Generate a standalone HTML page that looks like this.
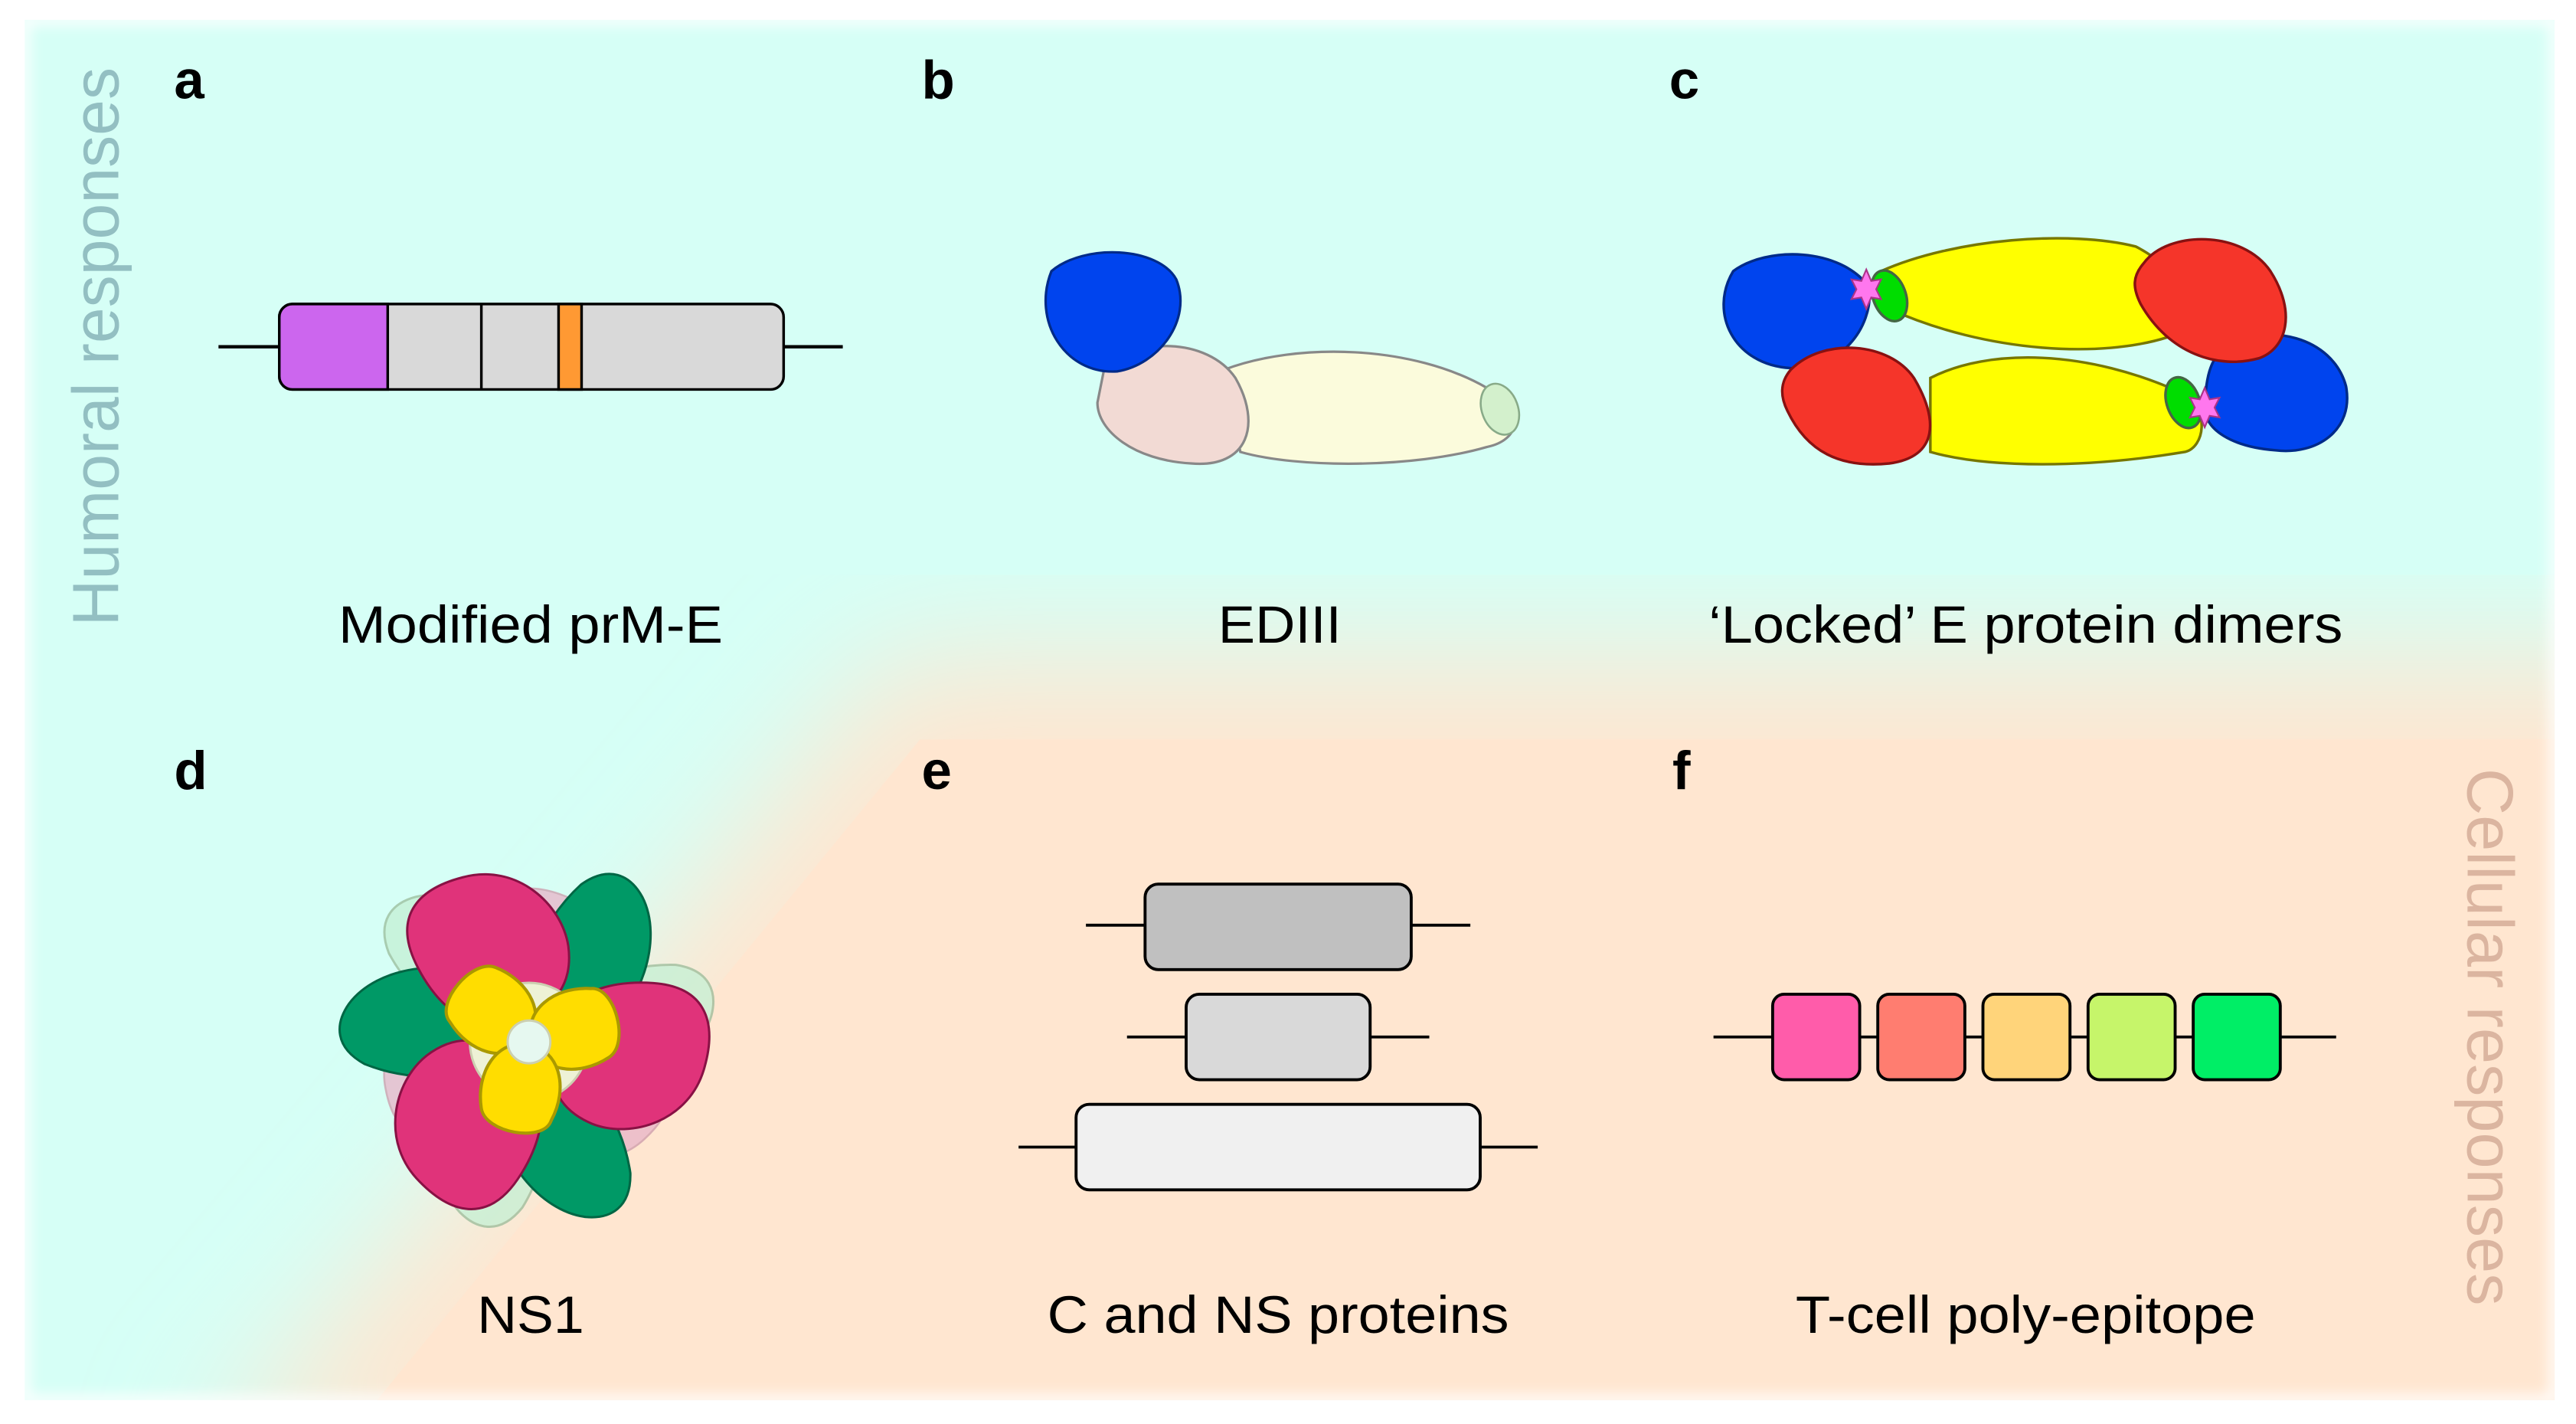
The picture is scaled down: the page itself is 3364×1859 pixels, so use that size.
<!DOCTYPE html>
<html><head><meta charset="utf-8"><style>html,body{margin:0;padding:0;background:#fff}svg{display:block}</style></head>
<body>
<svg width="3364" height="1859" viewBox="0 0 1568 866.5" preserveAspectRatio="none" xmlns="http://www.w3.org/2000/svg" font-family="Liberation Sans, Arial, sans-serif">
<defs>
<filter id="bl" x="-10%" y="-10%" width="120%" height="120%"><feGaussianBlur stdDeviation="40"/></filter>
<filter id="edge"><feGaussianBlur stdDeviation="4"/></filter>
<clipPath id="cp"><rect x="15" y="12" width="1540" height="840"/></clipPath>
<path id="pk" d="M14,0 C14,-30 40,-44 70,-46 C100,-48 112,-30 108,0 C104,34 70,50 45,44 C22,38 14,22 14,0 Z"/>
<path id="gr" d="M14,0 C20,-28 60,-40 95,-34 C115,-28 118,-14 112,0 C100,26 60,40 30,32 C18,26 14,12 14,0 Z"/>
<path id="yl" d="M-18,-14 C-16,-26 14,-26 18,-14 C24,4 16,22 0,22 C-16,22 -24,4 -18,-14 Z"/>
</defs>
<rect width="1568" height="866.5" fill="#fff"/>
<g clip-path="url(#cp)">
<rect x="15" y="12" width="1540" height="840" fill="#d6fff6"/>
<polygon points="120,900 545,400 1700,400 1700,900" fill="#ffe6d0" filter="url(#bl)"/>
<polygon points="190,900 560,450 1700,450 1700,900" fill="#ffe6d0"/>
</g>
<rect x="15" y="12" width="1540" height="840" fill="none" stroke="#fff" stroke-width="6" filter="url(#edge)"/>

<!-- labels -->
<g font-weight="bold" font-size="33" fill="#000">
<text x="106" y="60">a</text><text x="561" y="60">b</text><text x="1016" y="60">c</text>
<text x="106" y="480">d</text><text x="561" y="480">e</text><text x="1018" y="480">f</text>
</g>
<text transform="translate(72,211) rotate(-90)" text-anchor="middle" font-size="40" fill="#93bfc2" textLength="340" lengthAdjust="spacingAndGlyphs">Humoral responses</text>
<text transform="translate(1502,631) rotate(90)" text-anchor="middle" font-size="40" fill="#dbb5a0" textLength="327" lengthAdjust="spacingAndGlyphs">Cellular responses</text>
<g font-size="32" fill="#000" text-anchor="middle" lengthAdjust="spacingAndGlyphs">
<text x="323" y="391" textLength="234" lengthAdjust="spacingAndGlyphs">Modified prM-E</text>
<text x="779" y="391" textLength="75" lengthAdjust="spacingAndGlyphs">EDIII</text>
<text x="1233" y="391" textLength="386" lengthAdjust="spacingAndGlyphs">‘Locked’ E protein dimers</text>
<text x="323" y="811" textLength="65" lengthAdjust="spacingAndGlyphs">NS1</text>
<text x="778" y="811" textLength="281" lengthAdjust="spacingAndGlyphs">C and NS proteins</text>
<text x="1233" y="811" textLength="280" lengthAdjust="spacingAndGlyphs">T-cell poly-epitope</text>
</g>

<!-- a -->
<line x1="133" y1="211" x2="513" y2="211" stroke="#000" stroke-width="2"/>
<rect x="170" y="185" width="307" height="52" rx="8" fill="#d9d9d9" stroke="#000" stroke-width="1.6"/>
<path d="M178,185 H236 V237 H178 A8,8 0 0 1 170,229 V193 A8,8 0 0 1 178,185 Z" fill="#cc66ee" stroke="#000" stroke-width="1.6"/>
<line x1="293" y1="185" x2="293" y2="237" stroke="#000" stroke-width="1.6"/>
<rect x="340" y="185" width="14" height="52" fill="#ff9933" stroke="#000" stroke-width="1.6"/>

<!-- b -->
<path d="M745,225 C790,208 860,210 905,236 C930,250 925,268 905,272 C860,285 790,285 755,275 Z" fill="#fbfbdc" stroke="#888" stroke-width="1.5"/>
<ellipse cx="913" cy="249" rx="11" ry="16" transform="rotate(-20 913 249)" fill="#d3f0cc" stroke="#8a8" stroke-width="1.2"/>
<path d="M672,225 C690,205 735,205 752,230 C768,258 760,285 725,282 C690,280 668,262 668,245 Z" fill="#f2dad4" stroke="#888" stroke-width="1.5"/>
<path d="M640,165 C660,148 705,150 716,170 C726,195 705,222 680,226 C648,228 628,195 640,165 Z" fill="#0044ee" stroke="#002a88" stroke-width="1.5"/>

<!-- c -->
<g stroke-width="1.6">
<path d="M1145,165 C1190,145 1260,140 1300,150 C1330,165 1340,195 1320,205 C1280,218 1210,215 1150,188 C1138,180 1138,170 1145,165 Z" fill="#ffff00" stroke="#777700"/>
<path d="M1175,230 C1210,212 1270,212 1330,240 C1345,250 1342,272 1330,275 C1270,285 1210,285 1175,275 Z" fill="#ffff00" stroke="#777700"/>
<path d="M1055,165 C1075,150 1120,150 1138,175 C1140,200 1120,225 1090,224 C1055,222 1040,190 1055,165 Z" fill="#0044ee" stroke="#002a88"/>
<path d="M1353,212 C1380,195 1420,205 1428,235 C1433,262 1410,277 1385,274 C1360,272 1340,262 1342,245 C1343,230 1345,220 1353,212 Z" fill="#0044ee" stroke="#002a88"/>
<path d="M1305,160 C1320,140 1365,140 1382,165 C1398,190 1392,212 1375,218 C1350,225 1320,215 1303,185 C1298,175 1298,168 1305,160 Z" fill="#f5352a" stroke="#881111"/>
<path d="M1090,225 C1110,205 1150,208 1165,230 C1180,255 1180,278 1150,282 C1120,285 1100,275 1088,250 C1083,240 1084,232 1090,225 Z" fill="#f5352a" stroke="#881111"/>
<ellipse cx="1150" cy="180" rx="10" ry="16" transform="rotate(-20 1150 180)" fill="#00dd00" stroke="#446644"/>
<ellipse cx="1329" cy="245" rx="10" ry="16" transform="rotate(-20 1329 245)" fill="#00dd00" stroke="#446644"/>
<polygon points="1136,164 1139,171 1145,170 1142,176 1145,182 1139,181 1136,188 1133,181 1127,182 1130,176 1127,170 1133,171" fill="#ff77ee" stroke="#aa3388" stroke-width="1"/>
<polygon points="1342,236 1345,243 1351,242 1348,248 1351,254 1345,253 1342,260 1339,253 1333,254 1336,248 1333,242 1339,243" fill="#ff77ee" stroke="#aa3388" stroke-width="1"/>
</g>

<!-- d flower -->
<g transform="translate(322,634)" stroke-width="1.4">
<g opacity="0.75">
<use href="#gr" transform="rotate(-128)" fill="#c4f0d4" stroke="#99bb99"/>
<use href="#gr" transform="rotate(-8)" fill="#c4f0d4" stroke="#99bb99"/>
<use href="#gr" transform="rotate(112)" fill="#c4f0d4" stroke="#99bb99"/>
<use href="#pk" transform="rotate(-78) scale(0.85)" fill="#e8b4c8" stroke="#cc99aa"/>
<use href="#pk" transform="rotate(40) scale(0.85)" fill="#e8b4c8" stroke="#cc99aa"/>
<use href="#pk" transform="rotate(162) scale(0.85)" fill="#e8b4c8" stroke="#cc99aa"/>
</g>
<use href="#gr" transform="rotate(192)" fill="#009966" stroke="#006644"/>
<use href="#gr" transform="rotate(-52)" fill="#009966" stroke="#006644"/>
<use href="#gr" transform="rotate(72)" fill="#009966" stroke="#006644"/>
<use href="#pk" transform="rotate(-112)" fill="#e0337a" stroke="#881144"/>
<use href="#pk" transform="rotate(8)" fill="#e0337a" stroke="#881144"/>
<use href="#pk" transform="rotate(128)" fill="#e0337a" stroke="#881144"/>
<circle r="36" fill="#eef2d6" stroke="#cccfb0"/>
<use href="#yl" transform="rotate(-50) translate(0,-28) scale(1.2)" fill="#ffdd00" stroke="#aa9900" stroke-width="1.6"/>
<use href="#yl" transform="rotate(75) translate(0,-28) scale(1.2)" fill="#ffdd00" stroke="#aa9900" stroke-width="1.6"/>
<use href="#yl" transform="rotate(190) translate(0,-28) scale(1.2)" fill="#ffdd00" stroke="#aa9900" stroke-width="1.6"/>
<circle r="13" fill="#e6f8f0" stroke="#cccfb0"/>
</g>

<!-- e -->
<g stroke="#000" stroke-width="1.8">
<line x1="661" y1="563" x2="895" y2="563"/>
<rect x="697" y="538" width="162" height="52" rx="8" fill="#c0c0c0"/>
<line x1="686" y1="631" x2="870" y2="631"/>
<rect x="722" y="605" width="112" height="52" rx="8" fill="#d9d9d9"/>
<line x1="620" y1="698" x2="936" y2="698"/>
<rect x="655" y="672" width="246" height="52" rx="8" fill="#f0f0f0"/>
</g>

<!-- f -->
<g stroke="#000" stroke-width="1.8">
<line x1="1043" y1="631" x2="1422" y2="631"/>
<rect x="1079" y="605" width="53" height="52" rx="7" fill="#ff5caa"/>
<rect x="1143" y="605" width="53" height="52" rx="7" fill="#ff7d70"/>
<rect x="1207" y="605" width="53" height="52" rx="7" fill="#ffd47a"/>
<rect x="1271" y="605" width="53" height="52" rx="7" fill="#c6f56a"/>
<rect x="1335" y="605" width="53" height="52" rx="7" fill="#00ee66"/>
</g>
</svg>
</body></html>
